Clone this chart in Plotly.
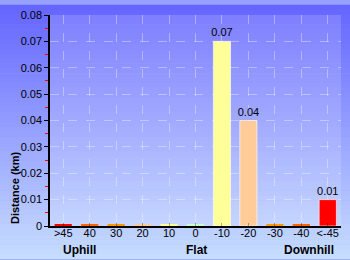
import plotly.graph_objects as go

categories = [">45", "40", "30", "20", "10", "0", "-10", "-20", "-30", "-40", "<-45"]
distance_km = [0.0007, 0.0007, 0.0007, 0.0007, 0.0007, 0.0007, 0.07, 0.04, 0.0007, 0.0007, 0.01]
bar_labels = ["", "", "", "", "", "", "0.07", "0.04", "", "", "0.01"]
bar_colors = ["#ff0000", "#ff6600", "#ff9900", "#ffcc99", "#ffff99", "#ccffcc",
              "#ffff99", "#ffcc99", "#ff9900", "#ff6600", "#ff0000"]
group_labels = ["Uphill", "Flat", "Downhill"]
group_pos = [0.103, 0.502, 0.89]

W, H = 350, 260
ML, MR, MT, MB = 50, 9, 10, 34
PW, PH = W - ML - MR, H - MT - MB

line_w = [1 if v >= 0.005 else 0 for v in distance_km]

fig = go.Figure(go.Bar(
    x=categories, y=distance_km, text=bar_labels, textposition="outside",
    textfont=dict(size=11, color="#000"), cliponaxis=False, constraintext="none",
    marker=dict(color=bar_colors, line=dict(color="rgba(255,255,255,0.6)", width=line_w)),
    width=0.65,
))

# background gradient strips
shapes = []
n = 52
x0 = -ML / PW
x1 = 1 + MR / PW
ytop = 1 + MT / PH
ybot = -MB / PH
top = (100, 100, 255)
bot = (200, 222, 255)
for i in range(n):
    t = (i + 0.5) / n
    c = tuple(int(round(top[k] + (bot[k] - top[k]) * t)) for k in range(3))
    ya = ytop - (ytop - ybot) * i / n
    yb = ytop - (ytop - ybot) * (i + 1) / n
    shapes.append(dict(type="rect", xref="paper", yref="paper", x0=x0, x1=x1,
                       y0=yb, y1=ya + 0.002, fillcolor="rgb(%d,%d,%d)" % c,
                       line=dict(width=0), layer="below"))
shapes.append(dict(type="rect", xref="paper", yref="paper", x0=0, x1=1, y0=0, y1=1,
                   fillcolor="rgba(255,255,255,0.15)", line=dict(width=0), layer="below"))

annotations = [dict(text="<b>%s</b>" % g, x=p, y=-0.115, xref="paper", yref="paper",
                    showarrow=False, font=dict(size=12, color="#000"),
                    xanchor="center", yanchor="middle")
               for g, p in zip(group_labels, group_pos)]
annotations.append(dict(text="<b>Distance (km)</b>", x=-35 / PW, y=0.18, xref="paper",
                        yref="paper", showarrow=False, textangle=-90,
                        font=dict(size=11, color="#000"), xanchor="center", yanchor="middle"))

grid = "rgba(255,255,255,0.35)"
fig.update_layout(
    width=W, height=H, margin=dict(l=ML, r=MR, t=MT, b=MB),
    paper_bgcolor="rgb(150,160,255)", plot_bgcolor="rgba(0,0,0,0)",
    font=dict(family="Liberation Sans, Arial, sans-serif", size=11, color="#000"),
    showlegend=False, shapes=shapes, annotations=annotations,
    xaxis=dict(type="category", showline=True, linecolor="#000", linewidth=1.5,
               ticks="inside", ticklen=3, tickcolor="rgba(0,0,0,0.3)",
               ticklabelstandoff=-4,
               showgrid=True, gridcolor=grid, griddash="dash", gridwidth=1,
               tickfont=dict(size=11), fixedrange=True),
    yaxis=dict(range=[0, 0.08], showline=True,
               linecolor="#000", linewidth=1.5, ticks="outside", ticklen=4,
               tickcolor="#000", showgrid=True, gridcolor=grid, griddash="dash",
               gridwidth=1, zeroline=False, tickfont=dict(size=11),
               minor=dict(ticks="outside", ticklen=3, tickcolor="red", dtick=0.005,
                          showgrid=False)),
)

def fmt(v):
    return "0" if v == 0 else ("%.2f" % v)
fig.update_yaxes(tickvals=[i * 0.01 for i in range(9)],
                 ticktext=[fmt(i * 0.01) for i in range(9)])

fig.write_html("out.html")
